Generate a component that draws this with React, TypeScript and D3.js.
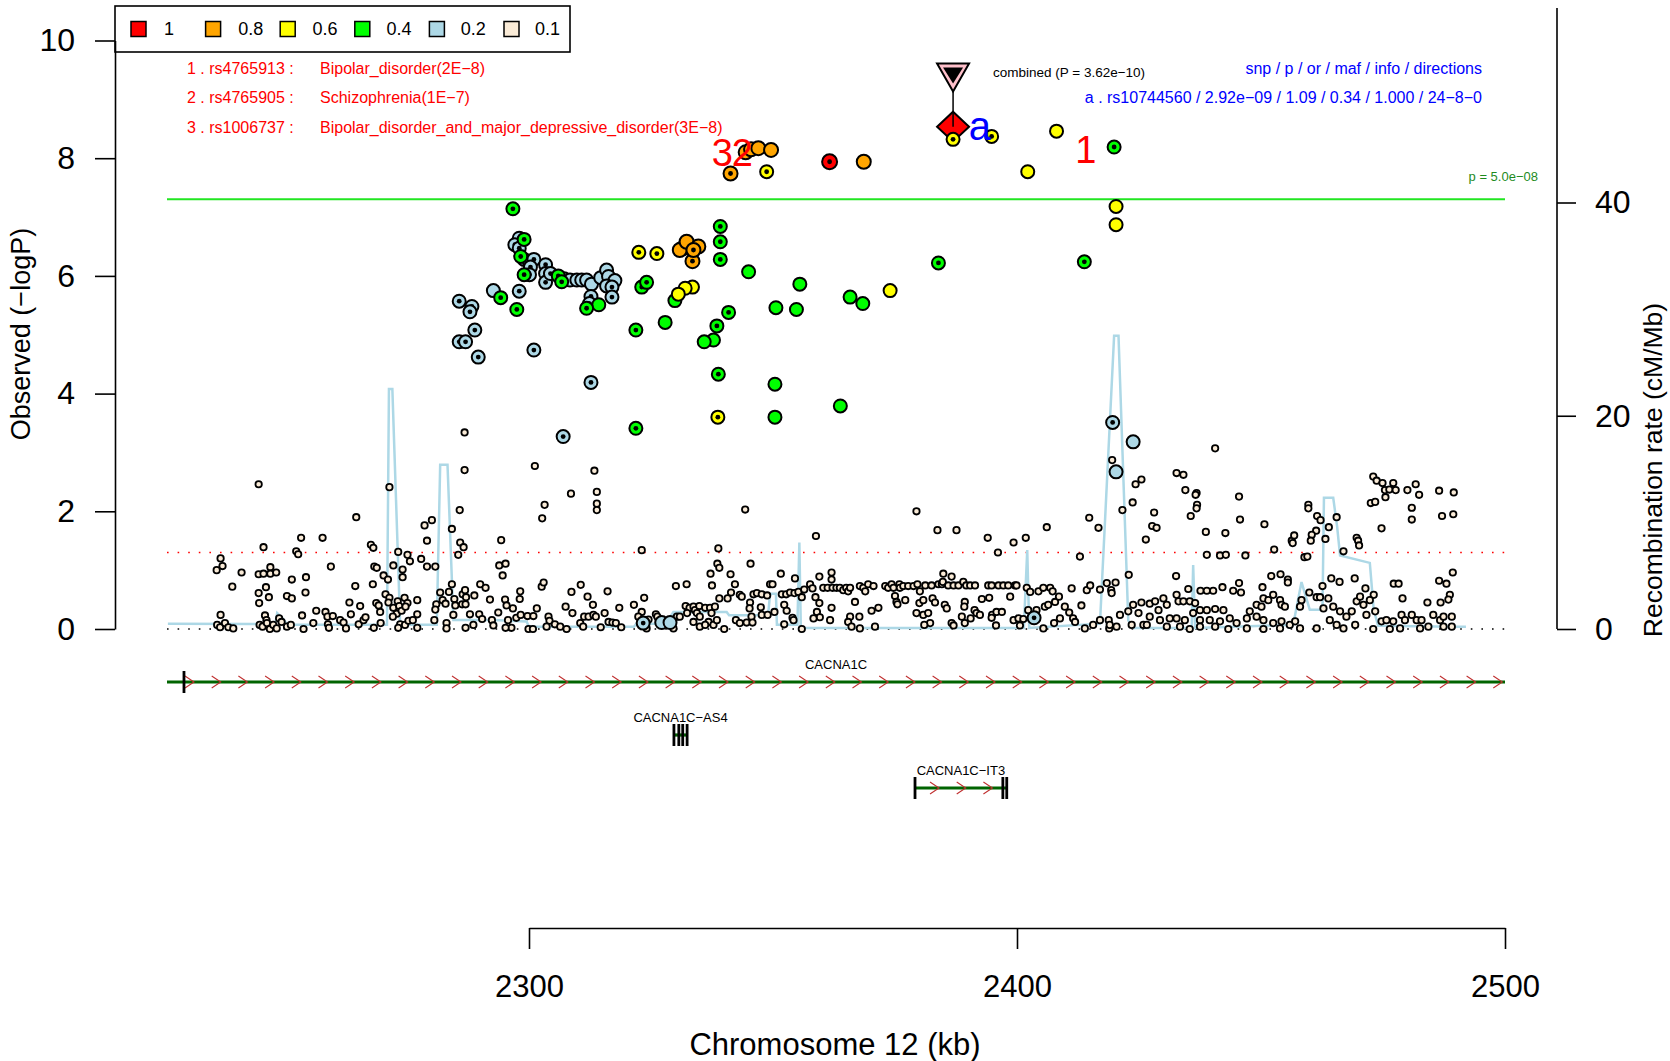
import React, { useEffect, useRef } from 'react';
import * as d3 from 'd3';

const FONT = '"Liberation Sans", Arial, Helvetica, sans-serif';

// LD legend
const ldLevels = ['1', '0.8', '0.6', '0.4', '0.2', '0.1'];
const ldColors = ['#FF0000', '#FFA500', '#FFFF00', '#00FF00', '#ADD8E6', '#FAEBD7'];

// axis ticks
const yTicks = [0, 2, 4, 6, 8, 10];
const recombTicks = [0, 20, 40];
const xTicks = [2300, 2400, 2500];

// thresholds (-log10 p)
const gwsLine = -Math.log10(5e-8);
const nominalLine = -Math.log10(0.05);

// background SNPs (r2 < 0.2): [position kb, -log10 p]
const bgLeft: [number, number][] = [
  [2236.0, 1.0], [2236.8, 1.2], [2237.2, 1.07], [2236.8, 0.24], [2236.1, 0.07], [2236.7, 0.03], [2237.7, 0.1], [2238.4, 0.03],
  [2239.4, 0.01], [2239.2, 0.72], [2241.1, 0.96], [2244.6, 2.46], [2245.6, 1.39], [2244.6, 0.93], [2245.6, 0.94], [2247.0, 1.05],
  [2247.0, 0.94], [2248.2, 0.96], [2246.1, 0.71], [2244.6, 0.61], [2244.7, 0.44], [2246.7, 0.54], [2245.9, 0.23], [2246.2, 0.15],
  [2244.8, 0.07], [2245.4, 0.04], [2246.3, 0.1], [2246.9, 0.0], [2247.6, 0.07], [2248.8, 0.18], [2248.3, 0.01], [2249.3, 0.12],
  [2250.4, 0.04], [2251.2, 0.07], [2250.4, 0.56], [2251.4, 0.52], [2251.4, 0.84], [2252.3, 1.32], [2252.7, 1.27], [2253.3, 1.55],
  [2254.3, 0.88], [2254.2, 0.62], [2253.5, 0.23], [2253.8, 0.0], [2255.8, 0.1], [2256.4, 0.31], [2257.7, 1.55], [2258.3, 0.29],
  [2259.4, 1.06], [2258.7, 0.21], [2259.8, 0.22], [2258.8, 0.08], [2259.0, 0.02], [2261.3, 0.15], [2262.0, 0.11], [2262.5, 0.01],
  [2263.2, 0.45], [2263.5, 0.25], [2264.4, 0.73], [2264.6, 1.9], [2265.4, 0.39], [2265.1, 0.08], [2266.1, 0.15], [2266.5, 0.2],
  [2267.6, 1.43], [2268.1, 1.38], [2268.3, 1.06], [2268.8, 1.04], [2268.0, 0.76], [2268.7, 0.44], [2269.2, 0.4], [2268.2, 0.02],
  [2269.5, 0.29], [2269.6, 0.1], [2270.2, 0.91], [2270.6, 0.59], [2271.1, 0.84], [2271.4, 2.41], [2271.4, 0.53], [2271.2, 0.45],
  [2272.2, 1.08], [2272.2, 0.36], [2273.2, 1.31], [2274.1, 1.01], [2274.1, 0.88], [2273.1, 0.47], [2273.4, 0.39], [2272.9, 0.26],
  [2272.1, 0.21], [2273.9, 0.31], [2274.5, 0.53], [2275.1, 1.26], [2275.6, 1.15], [2275.1, 0.44], [2274.7, 0.38], [2273.6, 0.08],
  [2273.2, 0.02], [2274.6, 0.07], [2275.3, 0.14], [2276.2, 0.15], [2277.1, 0.49], [2277.1, 0.25], [2277.1, 0.02], [2277.9, 1.19],
  [2278.6, 1.76], [2279.1, 1.5], [2279.1, 1.06], [2280.1, 1.85], [2280.8, 1.06], [2281.0, 0.42], [2280.8, 0.33], [2280.6, 0.15],
  [2281.8, 0.62], [2282.3, 0.49], [2282.9, 0.43], [2283.6, 0.63], [2283.1, 0.1], [2283.1, 0.01], [2284.2, 1.7], [2284.2, 0.76],
  [2284.5, 0.24], [2284.7, 0.51], [2284.9, 0.4], [2285.5, 1.26], [2285.8, 2.02], [2285.9, 1.47], [2286.6, 1.39], [2286.8, 2.7],
  [2286.4, 0.59], [2286.9, 0.66], [2287.1, 0.54], [2286.3, 0.42], [2287.0, 0.42], [2287.9, 0.25], [2287.0, 0.02], [2288.8, 0.57],
  [2288.6, 0.07], [2289.8, 0.25], [2290.0, 0.76], [2290.4, 0.17], [2291.1, 0.7], [2292.0, 0.5], [2292.4, 0.15], [2292.7, 0.06],
  [2293.7, 0.28], [2293.9, 1.08], [2294.3, 1.51], [2294.6, 0.91], [2295.2, 1.11], [2295.1, 0.5], [2295.4, 0.4], [2295.7, 0.15],
  [2296.7, 0.35], [2296.4, 0.02], [2295.2, 0.02], [2298.2, 0.64], [2298.1, 0.51], [2297.4, 0.19], [2298.3, 0.24], [2299.7, 0.22],
  [2299.9, 0.0], [2300.9, 0.22], [2300.8, 0.0], [2301.2, 2.77], [2302.7, 1.88], [2303.2, 2.11], [2302.6, 0.72], [2303.0, 0.79],
  [2301.6, 0.35], [2304.0, 0.21], [2304.2, 0.14], [2303.6, 0.04], [2305.3, 0.08], [2306.4, 0.04], [2307.7, 0.0], [2307.5, 0.38],
  [2308.6, 2.3], [2308.9, 0.27], [2308.7, 0.63], [2310.6, 0.75], [2310.5, 0.1], [2311.1, 0.04], [2311.3, 0.21], [2312.2, 0.21],
  [2312.0, 0.55], [2313.1, 0.41], [2313.4, 2.69], [2313.9, 2.33], [2313.9, 2.13], [2313.9, 2.02], [2313.2, 0.24], [2313.7, 0.21],
  [2315.5, 0.27], [2316.1, 0.64], [2316.3, 0.12], [2317.1, 0.11], [2317.8, 0.1], [2318.5, 0.36], [2318.9, 0.03], [2314.7, 0.03],
  [2286.8, 3.34],
];

const bgMid: [number, number][] = [
  [2321.5, 0.41], [2323.1, 1.34], [2323.6, 0.53], [2323.1, 0.29], [2322.4, 0.21], [2324.1, 0.01], [2324.5, 0.16], [2326.0, 0.25],
  [2326.3, 0.21], [2329.6, 0.01], [2330.1, 0.73], [2330.3, 0.21], [2330.9, 0.21], [2332.3, 0.76], [2332.1, 0.39], [2332.9, 0.36],
  [2332.4, 0.27], [2333.7, 0.38], [2334.0, 0.32], [2334.9, 0.39], [2334.4, 0.27], [2335.0, 0.21], [2336.1, 0.36], [2337.1, 0.36],
  [2338.1, 0.38], [2337.4, 0.27], [2336.8, 0.12], [2337.8, 0.07], [2333.7, 0.12], [2335.0, 0.04], [2336.1, 0.07], [2337.2, 0.94],
  [2337.5, 0.74], [2338.6, 1.11], [2339.0, 1.04], [2338.8, 1.37], [2339.0, 0.52], [2338.5, 0.15], [2340.0, 0.0], [2340.7, 0.52],
  [2341.4, 0.62], [2341.3, 0.93], [2342.2, 0.76], [2343.2, 0.58], [2343.6, 0.55], [2342.4, 0.15], [2343.2, 0.1], [2344.3, 2.03],
  [2345.4, 1.11], [2345.3, 0.45], [2345.2, 0.35], [2345.6, 0.21], [2344.6, 0.11], [2345.8, 0.11], [2346.0, 0.59], [2346.7, 0.61],
  [2347.7, 0.59], [2347.5, 0.37], [2347.7, 0.24], [2348.9, 0.24], [2348.8, 0.57], [2349.4, 0.76], [2349.9, 0.76], [2350.3, 0.29],
  [2351.6, 0.94], [2351.8, 0.59], [2352.3, 0.41], [2352.7, 0.59], [2352.8, 0.31], [2353.5, 0.62], [2354.0, 0.19], [2354.2, 0.15],
  [2352.3, 0.08], [2354.5, 0.86], [2354.4, 0.61], [2355.2, 0.63], [2355.9, 0.54], [2355.9, 0.0], [2356.4, 0.67], [2357.6, 0.76],
  [2358.1, 0.69], [2358.7, 0.54], [2358.8, 1.58], [2359.5, 0.89], [2359.5, 0.44], [2359.0, 0.29], [2359.6, 0.2], [2358.3, 0.18],
  [2360.3, 0.7], [2361.2, 0.7], [2362.0, 0.96], [2362.0, 0.84], [2362.2, 0.7], [2361.7, 0.15], [2362.0, 0.36], [2363.0, 0.7],
  [2363.7, 0.7], [2364.4, 0.66], [2365.0, 0.7], [2365.4, 0.64], [2365.8, 0.7], [2366.8, 0.46], [2365.8, 0.21], [2365.4, 0.12],
  [2366.1, 0.04], [2367.7, 0.21], [2367.8, 0.01], [2367.8, 0.73], [2368.5, 0.7], [2368.9, 0.64], [2369.5, 0.76], [2370.2, 0.31],
  [2370.6, 0.73], [2370.9, 0.04], [2371.6, 0.36], [2373.0, 0.73], [2373.6, 0.7], [2374.3, 0.76], [2374.7, 0.7], [2375.0, 0.56],
  [2375.3, 0.46], [2375.5, 0.42], [2375.9, 0.76], [2376.0, 0.7], [2376.7, 0.73], [2377.1, 0.49], [2377.7, 0.73], [2378.8, 0.73],
  [2379.4, 2.0], [2379.6, 0.76], [2380.0, 0.44], [2379.4, 0.27], [2380.1, 0.64], [2380.8, 0.49], [2380.8, 0.24], [2381.2, 0.74],
  [2381.8, 0.27], [2382.2, 0.1], [2382.5, 0.74], [2382.7, 0.52], [2383.2, 0.45], [2381.0, 0.07], [2383.7, 1.68], [2383.9, 0.76],
  [2384.6, 0.76], [2384.9, 0.94], [2384.8, 0.8], [2385.2, 0.41], [2385.6, 0.35], [2385.9, 0.74], [2386.6, 0.89], [2387.0, 0.74],
  [2386.6, 0.1], [2387.0, 0.06], [2387.6, 1.68], [2388.0, 0.74], [2388.7, 0.21], [2389.0, 0.8], [2389.3, 0.46], [2389.2, 0.38],
  [2389.6, 0.74], [2389.3, 0.1], [2390.4, 0.74], [2390.5, 0.18], [2391.3, 0.32], [2391.4, 0.74], [2391.7, 0.27], [2392.4, 0.24],
  [2392.8, 0.51], [2394.0, 1.55], [2394.1, 0.74], [2394.3, 0.53], [2394.8, 0.74], [2394.9, 0.24], [2394.8, 0.19], [2395.7, 0.06],
  [2395.8, 0.29], [2396.1, 1.3], [2396.2, 0.74], [2396.9, 0.29], [2397.2, 0.74], [2398.2, 0.74], [2398.6, 0.55], [2399.3, 1.47],
  [2399.6, 0.74], [2399.3, 0.15], [2399.9, 0.74], [2400.3, 0.18], [2400.6, 0.06], [2401.3, 0.17], [2401.8, 1.55], [2402.0, 0.7],
  [2402.3, 0.32], [2402.7, 0.63], [2404.0, 0.32], [2404.4, 0.64], [2405.4, 0.7], [2405.4, 0.01], [2406.1, 1.73], [2405.7, 0.38],
  [2406.8, 0.7], [2406.4, 0.41], [2407.3, 0.64], [2407.8, 0.46], [2408.6, 0.55], [2407.6, 0.1], [2408.8, 0.18], [2409.8, 0.38],
  [2410.7, 0.28], [2411.2, 0.69], [2411.5, 0.18], [2411.9, 0.12], [2412.9, 1.23], [2413.2, 0.4], [2413.9, 0.01], [2414.3, 0.66],
  [2414.8, 1.89], [2415.0, 0.74], [2415.6, 0.07], [2416.7, 1.72], [2417.0, 0.67], [2417.0, 0.15], [2418.4, 0.78], [2418.8, 0.15],
  [2418.9, 0.01],
];

const bgRight: [number, number][] = [
  [2419.5, 2.87], [2421.6, 2.02], [2423.7, 2.15], [2424.3, 2.46], [2425.5, 2.54], [2426.4, 1.52], [2428.1, 1.98], [2427.7, 1.75],
  [2428.6, 1.72], [2432.7, 2.65], [2434.1, 2.62], [2434.5, 2.36], [2436.8, 2.31], [2436.6, 2.28], [2436.9, 2.11], [2436.8, 2.05],
  [2435.6, 1.92], [2440.6, 3.07], [2438.7, 1.65], [2442.7, 1.63], [2438.9, 1.26], [2441.6, 1.25], [2442.8, 1.26], [2446.8, 1.25],
  [2445.5, 2.25], [2445.7, 1.86], [2450.7, 1.78], [2452.7, 1.35], [2456.3, 1.5], [2456.8, 1.59], [2456.5, 1.46], [2458.9, 1.22],
  [2459.5, 1.23], [2459.7, 2.11], [2459.7, 2.05], [2461.5, 1.92], [2462.2, 1.85], [2461.3, 1.67], [2460.4, 1.6], [2460.2, 1.5],
  [2463.9, 1.73], [2463.2, 1.53], [2465.5, 1.9], [2466.9, 1.32], [2469.6, 1.55], [2469.9, 1.5], [2470.1, 1.42], [2473.0, 2.59],
  [2473.7, 2.52], [2474.9, 2.48], [2475.4, 2.36], [2476.3, 2.37], [2477.1, 2.48], [2477.6, 2.36], [2475.5, 2.24], [2472.5, 2.14],
  [2473.4, 2.16], [2474.7, 1.71], [2480.0, 2.36], [2481.7, 2.46], [2482.4, 2.28], [2480.9, 2.06], [2480.9, 1.86], [2486.5, 2.35],
  [2489.5, 2.32], [2487.1, 1.92], [2489.4, 1.95], [2422.9, 0.92], [2420.2, 0.79], [2419.3, 0.66], [2419.4, 0.61],
  [2432.6, 0.9], [2435.1, 0.68], [2437.6, 0.65], [2438.9, 0.65], [2440.2, 0.65], [2442.1, 0.71], [2444.3, 0.65], [2445.5, 0.78],
  [2445.9, 0.62], [2450.3, 0.71], [2452.1, 0.9], [2454.0, 0.93], [2455.5, 0.84], [2455.5, 0.79], [2462.6, 0.73], [2464.4, 0.86],
  [2466.1, 0.8], [2469.2, 0.86], [2471.4, 0.69], [2477.2, 0.77], [2478.2, 0.77], [2486.5, 0.82], [2488.0, 0.77], [2489.3, 0.96],
  [2488.7, 0.58], [2488.4, 0.5], [2479.0, 0.52], [2484.1, 0.45], [2486.8, 0.45], [2473.1, 0.58],
  [2419.0, 0.07], [2420.4, 0.04], [2421.1, 0.24], [2422.8, 0.3], [2423.8, 0.41], [2424.9, 0.27], [2425.5, 0.45],
  [2423.5, 0.07], [2425.9, 0.07], [2427.2, 0.43], [2428.3, 0.47], [2429.0, 0.32], [2430.0, 0.52], [2430.7, 0.41], [2427.2, 0.21],
  [2429.3, 0.15], [2431.3, 0.18], [2432.7, 0.58], [2433.1, 0.47], [2434.1, 0.47], [2435.4, 0.47], [2436.5, 0.44], [2432.7, 0.18],
  [2434.4, 0.15], [2435.4, 0.0], [2436.1, 0.27], [2437.5, 0.32], [2438.9, 0.32], [2440.6, 0.34], [2442.3, 0.32], [2437.5, 0.15],
  [2439.5, 0.15], [2441.6, 0.13], [2443.6, 0.18], [2445.0, 0.1], [2447.1, 0.18], [2447.7, 0.3], [2449.1, 0.41], [2450.1, 0.38],
  [2450.5, 0.52], [2451.5, 0.49], [2452.5, 0.58], [2453.9, 0.49], [2454.2, 0.41], [2449.1, 0.21], [2450.5, 0.15], [2452.5, 0.1],
  [2454.2, 0.13], [2454.9, 0.38], [2455.9, 0.07], [2457.0, 0.13], [2458.3, 0.49], [2458.0, 0.38], [2459.9, 0.62], [2461.4, 0.54],
  [2462.1, 0.54], [2462.8, 0.35], [2463.8, 0.52], [2464.8, 0.38], [2466.2, 0.3], [2464.1, 0.15], [2465.5, 0.07], [2467.5, 0.21],
  [2468.6, 0.3], [2469.6, 0.47], [2470.3, 0.55], [2471.0, 0.41], [2471.6, 0.24], [2469.3, 0.07], [2466.9, 0.01], [2472.3, 0.49],
  [2473.4, 0.3], [2474.7, 0.13], [2475.7, 0.15], [2477.1, 0.13], [2478.8, 0.24], [2479.5, 0.15], [2480.9, 0.24], [2481.9, 0.15],
  [2482.9, 0.15], [2484.3, 0.04], [2485.3, 0.24], [2486.7, 0.15], [2487.4, 0.21], [2489.1, 0.21], [2489.1, 0.04], [2487.4, 0.04],
  [2482.6, 0.01], [2478.5, 0.01], [2476.4, 0.0], [2473.0, 0.0], [2461.4, 0.01], [2458.0, 0.01], [2453.9, 0.01], [2450.5, 0.0],
  [2447.1, 0.01], [2443.3, 0.0], [2440.6, 0.04], [2437.5, 0.04], [2433.4, 0.04], [2430.7, 0.04], [2426.6, 0.07],
];

// LD-coloured SNPs; "typed" ones carry a black centre dot
const ld02Typed: [number, number][] = [
  [2298.0, 6.64], [2297.1, 6.53], [2298.0, 6.47], [2300.1, 6.24], [2301.0, 6.28], [2300.3, 6.15], [2300.1, 6.02], [2303.4, 6.19],
  [2303.4, 6.04], [2303.4, 5.89], [2304.4, 6.04], [2317.0, 5.81], [2317.0, 5.64], [2312.7, 5.65], [2312.4, 5.53], [2298.0, 5.74],
  [2285.7, 5.57], [2288.3, 5.48], [2287.9, 5.39], [2288.9, 5.08], [2285.7, 4.88], [2287.0, 4.88], [2289.6, 4.62], [2301.0, 4.74],
  [2312.7, 4.19], [2307.0, 3.27], [2419.6, 3.51], [2323.4, 0.1], [2403.5, 0.19],
];
const ld02Imputed: [number, number][] = [
  [2299.0, 6.28], [2307.2, 5.95], [2308.4, 5.93], [2309.8, 5.93], [2310.8, 5.93], [2311.8, 5.93], [2312.8, 5.86], [2314.7, 5.97],
  [2315.9, 6.1], [2316.3, 5.99], [2317.6, 5.92], [2315.9, 5.83], [2292.7, 5.75], [2423.8, 3.18], [2420.3, 2.67], [2327.2, 0.11],
  [2328.9, 0.11],
];
const ld04Typed: [number, number][] = [
  [2296.7, 7.14], [2299.0, 6.62], [2298.3, 6.33], [2299.0, 6.02], [2306.0, 6.0], [2306.7, 5.9], [2294.2, 5.63], [2297.5, 5.43],
  [2311.8, 5.45], [2323.1, 5.81], [2324.1, 5.89], [2339.2, 6.84], [2339.2, 6.58], [2339.2, 6.28], [2340.9, 5.38], [2338.5, 5.15],
  [2321.9, 5.08], [2338.8, 4.33], [2321.9, 3.41], [2419.9, 8.19], [2413.8, 6.24], [2383.9, 6.22],
];
const ld04Imputed: [number, number][] = [
  [2314.3, 5.51], [2329.9, 5.58], [2345.0, 6.07], [2355.5, 5.86], [2350.6, 5.46], [2354.8, 5.43], [2337.8, 4.91], [2335.9, 4.88],
  [2327.9, 5.21], [2350.4, 4.16], [2350.4, 3.6], [2365.8, 5.64], [2368.4, 5.53], [2363.8, 3.79],
];
const ld06Typed: [number, number][] = [
  [2322.5, 6.4], [2326.2, 6.38], [2338.7, 3.6], [2348.7, 7.77], [2394.8, 8.37], [2386.9, 8.32],
];
const ld06Imputed: [number, number][] = [
  [2333.5, 5.81], [2332.0, 5.79], [2330.6, 5.69], [2402.2, 7.77], [2408.1, 8.46], [2420.3, 7.18], [2420.3, 6.87], [2374.0, 5.75],
];
const ld08Typed: [number, number][] = [[2341.3, 7.74], [2333.5, 6.25], [2333.7, 6.44]];
const ld08Imputed: [number, number][] = [
  [2331.5, 6.47], [2330.9, 6.44], [2332.3, 6.58], [2334.7, 6.5], [2344.4, 8.1], [2345.5, 8.15], [2347.0, 8.17], [2349.6, 8.14],
  [2368.6, 7.94],
];
const ld1Typed: [number, number][] = [[2361.6, 7.94]];

// index SNP and combined result
const indexSnp = { kb: 2386.9, logP: -Math.log10(2.92e-9), label: 'a' };
const combined = { kb: 2386.9, logP: -Math.log10(3.62e-10), text: 'combined (P = 3.62e\u221210)' };

// known GWAS hits
const gwasHits = [
  { id: '1', snp: 'rs4765913', trait: 'Bipolar_disorder(2E\u22128)', kb: 2414.1, logP: 8.15 },
  { id: '2', snp: 'rs4765905', trait: 'Schizophrenia(1E\u22127)', kb: 2343.7, logP: 8.1 },
  { id: '3', snp: 'rs1006737', trait: 'Bipolar_disorder_and_major_depressive_disorder(3E\u22128)', kb: 2339.6, logP: 8.1 },
];

const infoHeader = 'snp / p / or / maf / info / directions';
const infoRow = 'a . rs10744560 / 2.92e\u221209 / 1.09 / 0.34 / 1.000 / 24\u22128\u22120';

// recombination rate: [kb, cM/Mb]
const recomb: [number, number][] = [
  [2226, 0.5], [2248.0, 0.45], [2248.4, 1.5], [2249.5, 1.0], [2250.5, 0.4], [2270.9, 0.4], [2271.3, 22.5], [2272.0, 22.5],
  [2273.6, 0.4], [2281.1, 0.4], [2281.8, 15.4], [2283.3, 15.4], [2284.2, 4.6], [2284.5, 0.85], [2292.7, 0.85], [2299.5, 0.7],
  [2300.0, 0.2], [2321.5, 0.2], [2322.0, 0.5], [2328.0, 0.5], [2329.6, 1.6], [2340.5, 1.6], [2341.0, 1.3], [2349.0, 1.3],
  [2349.4, 3.3], [2350.6, 3.3], [2350.8, 0.4], [2355.0, 0.4], [2355.4, 8.1], [2355.7, 0.1], [2401.4, 0.1], [2402.1, 7.4],
  [2402.5, 0.1], [2417.0, 0.5], [2419.9, 27.5], [2420.8, 27.5], [2422.8, 0.8], [2423.8, 0.1], [2435.8, 0.1], [2436.1, 6.0],
  [2436.5, 0.1], [2456.6, 0.4], [2458.3, 4.4], [2460.0, 1.8], [2462.6, 1.8], [2462.9, 12.3], [2464.8, 12.3], [2465.6, 9.6],
  [2466.2, 6.9], [2472.3, 6.2], [2473.1, 1.8], [2474.0, 0.3], [2489.4, 0.2], [2492.0, 0.2],
];

// genes: start/end kb, exon marks
const genes = [
  { name: 'CACNA1C', start: 2162.4, end: 2807.1, row: 0, exons: [2229.3], arrows: true },
  { name: 'CACNA1C\u2212AS4', start: 2329.7, end: 2332.4, row: 1, exons: [2329.7, 2330.7, 2331.5, 2332.4], arrows: false },
  { name: 'CACNA1C\u2212IT3', start: 2379.1, end: 2397.9, row: 2, exons: [2379.1, 2397.1, 2397.9], arrows: true },
];

const App: React.FC = () => {
  const leftAxisRef = useRef<SVGGElement | null>(null);
  const rightAxisRef = useRef<SVGGElement | null>(null);
  const bottomAxisRef = useRef<SVGGElement | null>(null);

  const width = 1670;
  const height = 1061;
  const plotLeft = 167;
  const plotRight = 1505;

  const x = d3.scaleLinear().domain([2300, 2500]).range([529, 1505]);
  const y = d3.scaleLinear().domain([0, 10]).range([629, 40.5]);
  const yR = d3.scaleLinear().domain([0, 40]).range([629, 202.5]);
  const kbMin = x.invert(plotLeft);
  const kbMax = x.invert(plotRight);

  useEffect(() => {
    const style = (g: d3.Selection<SVGGElement, unknown, null, undefined>, size: number) => {
      g.attr('font-family', FONT).attr('font-size', size);
      g.selectAll('line').attr('stroke-width', 1.6);
      g.selectAll('path').attr('stroke-width', 1.6);
    };
    const left = d3.select(leftAxisRef.current!);
    left.selectAll('*').remove();
    left.call(d3.axisLeft(y).tickValues(yTicks).tickSize(20).tickSizeOuter(0).tickPadding(20));
    style(left, 32);

    const right = d3.select(rightAxisRef.current!);
    right.selectAll('*').remove();
    right.call(d3.axisRight(yR).tickValues(recombTicks).tickSize(19).tickSizeOuter(0).tickPadding(19));
    right.select('.domain').remove();
    style(right, 32);

    const bottom = d3.select(bottomAxisRef.current!);
    bottom.selectAll('*').remove();
    bottom.call(d3.axisBottom(x).tickValues(xTicks).tickSize(21).tickSizeOuter(0).tickPadding(26).tickFormat(d3.format('d')));
    style(bottom, 31);
  }, []);

  const recombLine = d3
    .line<[number, number]>()
    .x((d) => x(d[0]))
    .y((d) => yR(d[1]));

  const drawSnps = (data: [number, number][], color: string, typed: boolean, key: string, r = 6.5) =>
    data.map((d, i) => (
      <g key={`${key}-${i}`}>
        <circle cx={x(d[0])} cy={y(d[1])} r={r} fill={color} stroke="#000" strokeWidth={2} />
        {typed && <circle cx={x(d[0])} cy={y(d[1])} r={2.4} fill="#000" />}
      </g>
    ));

  const bg = [...bgLeft, ...bgMid, ...bgRight];
  const geneRowY = (row: number) => 682 + row * 53;

  const cx = x(indexSnp.kb);
  const cyTri = y(combined.logP);
  const cyDia = y(indexSnp.logP);

  return (
    <svg
      width={width}
      height={height}
      style={{ position: 'absolute', left: 0, top: 0, background: '#fff' }}
      fontFamily={FONT}
    >
      {/* reference lines */}
      <line x1={plotLeft} x2={plotRight} y1={y(0)} y2={y(0)} stroke="#000" strokeWidth={1.6} strokeDasharray="1.6 9" />
      <line x1={plotLeft} x2={plotRight} y1={y(nominalLine)} y2={y(nominalLine)} stroke="#FF0000" strokeWidth={1.6} strokeDasharray="1.6 9" />
      <line x1={plotLeft} x2={plotRight} y1={y(gwsLine)} y2={y(gwsLine)} stroke="#22E622" strokeWidth={2} />
      <text x={1538} y={y(gwsLine) - 23} textAnchor="end" fontSize={13} fill="#1E8B1E" dy="0.35em">
        p = 5.0e{'\u2212'}08
      </text>

      {/* recombination rate */}
      <path d={recombLine(recomb) ?? ''} fill="none" stroke="#ADD8E6" strokeWidth={2.5} />

      {/* background SNPs */}
      {bg.map((d, i) => (
        <circle key={`bg-${i}`} cx={x(d[0])} cy={y(d[1])} r={3.2} fill={ldColors[5]} stroke="#000" strokeWidth={1.8} />
      ))}

      {/* combined + index SNP */}
      <line x1={cx} x2={cx} y1={cyTri + 18} y2={cyDia} stroke="#000" strokeWidth={1.5} />
      <polygon
        points={`${cx},${cyDia - 15} ${cx + 16},${cyDia} ${cx},${cyDia + 15} ${cx - 16},${cyDia}`}
        fill="#FF0000"
        stroke="#000"
        strokeWidth={2}
      />
      <line x1={cx} x2={cx} y1={cyDia - 15} y2={cyDia} stroke="#000" strokeWidth={1.5} />

      {/* LD coloured SNPs */}
      {drawSnps(ld02Imputed, ldColors[4], false, 'l2i')}
      {drawSnps(ld02Typed, ldColors[4], true, 'l2t')}
      {drawSnps(ld04Imputed, ldColors[3], false, 'l4i')}
      {drawSnps(ld04Typed, ldColors[3], true, 'l4t')}
      {drawSnps(ld06Imputed, ldColors[2], false, 'l6i')}
      {drawSnps(ld06Typed, ldColors[2], true, 'l6t')}
      {drawSnps(ld08Imputed, ldColors[1], false, 'l8i', 7)}
      {drawSnps(ld08Typed, ldColors[1], true, 'l8t', 7)}
      {drawSnps(ld1Typed, ldColors[0], true, 'l1t', 7.5)}

      <polygon
        points={`${cx - 16},${cyTri - 10} ${cx + 16},${cyTri - 10} ${cx},${cyTri + 18}`}
        fill="#FFC0CB"
        stroke="#000"
        strokeWidth={2}
      />
      <polygon points={`${cx - 10},${cyTri - 6} ${cx + 10},${cyTri - 6} ${cx},${cyTri + 10}`} fill="#000" />
      <text x={993} y={cyTri - 1} fontSize={13.5} dy="0.35em" fill="#000">
        {combined.text}
      </text>
      <text x={x(2392.4)} y={y(8.55)} fontSize={40} fill="#0000FF" textAnchor="middle" dy="0.35em">
        {indexSnp.label}
      </text>

      {/* GWAS hit numbers */}
      {gwasHits.map((h) => (
        <text key={`hit-${h.id}`} x={x(h.kb)} y={y(h.logP)} fontSize={38} fill="#FF0000" textAnchor="middle" dy="0.36em">
          {h.id}
        </text>
      ))}

      {/* GWAS hit table */}
      {gwasHits.map((h, i) => (
        <g key={`row-${h.id}`} fill="#FF0000" fontSize={16}>
          <text x={187} y={68 + i * 29.5} dy="0.35em">{`${h.id} . ${h.snp} :`}</text>
          <text x={320} y={68 + i * 29.5} dy="0.35em">{h.trait}</text>
        </g>
      ))}

      {/* info text */}
      <text x={1482} y={68} textAnchor="end" fontSize={16} fill="#0000FF" dy="0.35em">{infoHeader}</text>
      <text x={1482} y={97} textAnchor="end" fontSize={16} fill="#0000FF" dy="0.35em">{infoRow}</text>

      {/* legend */}
      <rect x={115} y={6} width={455} height={46} fill="#fff" stroke="#000" strokeWidth={1.6} />
      {ldLevels.map((lv, i) => (
        <g key={`leg-${lv}`}>
          <rect x={131 + i * 74.6} y={21.5} width={15} height={15} fill={ldColors[i]} stroke="#000" strokeWidth={1.5} />
          <text x={164 + i * 74.2} y={29} fontSize={18} dy="0.35em">{lv}</text>
        </g>
      ))}

      {/* genes */}
      {genes.map((g) => {
        const gy = geneRowY(g.row);
        const s = Math.max(g.start, kbMin);
        const e = Math.min(g.end, kbMax);
        const x0 = x(s);
        const x1 = x(e);
        const arrows = g.arrows ? d3.range(g.row === 0 ? x0 + 18 : x0 + 15, x1 - 10, 26.7) : [];
        return (
          <g key={g.name}>
            <text x={(x0 + x1) / 2} y={gy - 18} textAnchor="middle" fontSize={13} dy="0.35em">{g.name}</text>
            <line x1={x0} x2={x1} y1={gy} y2={gy} stroke="#006400" strokeWidth={3.2} />
            {arrows.map((ax, i) => (
              <polyline
                key={`ar-${i}`}
                points={`${ax},${gy - 6} ${ax + 9},${gy} ${ax},${gy + 6}`}
                fill="none"
                stroke="#C03030"
                strokeWidth={1.1}
              />
            ))}
            {g.exons.map((ex, i) => (
              <line key={`ex-${i}`} x1={x(ex)} x2={x(ex)} y1={gy - 11} y2={gy + 11} stroke="#000" strokeWidth={2.8} />
            ))}
          </g>
        );
      })}

      {/* axes */}
      <g ref={leftAxisRef} transform="translate(115,0)" />
      <g ref={rightAxisRef} transform="translate(1557,0)" />
      <line x1={1557} x2={1557} y1={8} y2={yR(0)} stroke="#000" strokeWidth={1.6} />
      <g ref={bottomAxisRef} transform="translate(0,928)" />

      <text transform="translate(21,334) rotate(-90)" textAnchor="middle" fontSize={27} dy="0.35em">
        Observed ({'\u2212'}logP)
      </text>
      <text transform="translate(1653,470) rotate(-90)" textAnchor="middle" fontSize={26.5} dy="0.35em">
        Recombination rate (cM/Mb)
      </text>
      <text x={835} y={1044} textAnchor="middle" fontSize={31} dy="0.35em">
        Chromosome 12 (kb)
      </text>
    </svg>
  );
};

export default App;
